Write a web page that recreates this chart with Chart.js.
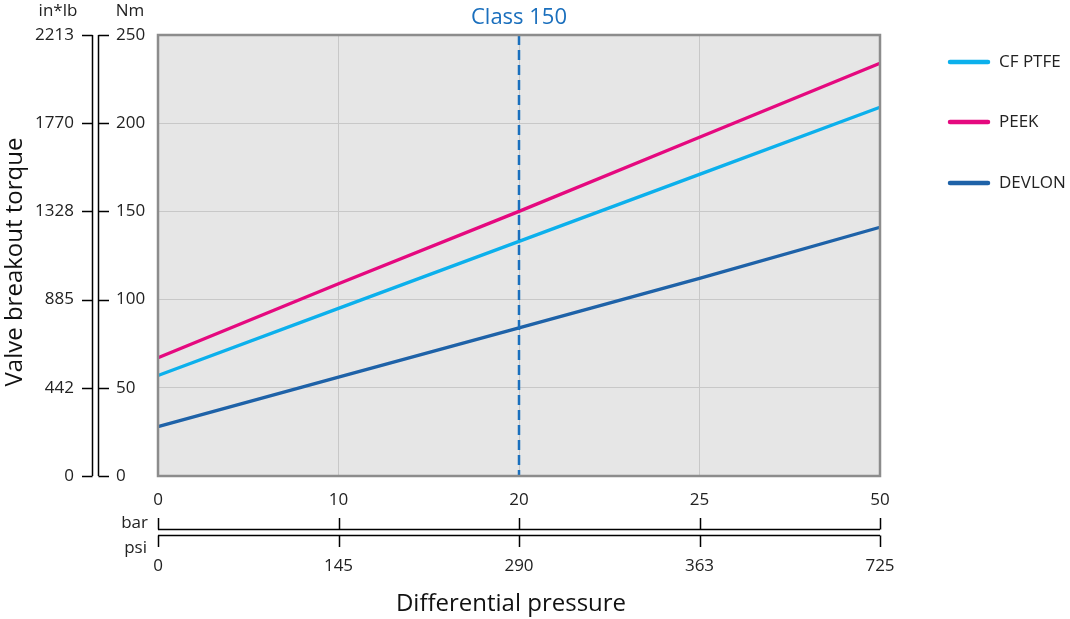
<!DOCTYPE html>
<html>
<head>
<meta charset="utf-8">
<script src="https://cdn.jsdelivr.net/npm/chart.js@4/dist/chart.umd.min.js"></script>
<style>
    body { margin: 0; background: #fff; }
    #wrap { width: 1070px; height: 619px; position: relative; }
</style>
</head>
<body>
<div id="wrap"><canvas id="myChart"></canvas></div>
<script>
// du lieu
const barLabels = ['0', '10', '20', '25', '50']
const psiLabels = ['0', '145', '290', '363', '725']
const nmTicks = [0, 50, 100, 150, 200, 250]
const inlbTicks = ['0', '442', '885', '1328', '1770', '2213']

const cfPtfe = [57, 95, 133, 171, 209]
const peek = [67, 109, 150, 192, 234]
const devlon = [28, 56, 84, 112, 141]

const classIndex = 2
const FONT = "'Open Sans', sans-serif"

// ve nen xam, duong class 150, khung, cac truc phu
const decoPlugin = {
    id: 'deco',
    beforeDraw: (chart) => {
        const { ctx, chartArea: a } = chart
        ctx.save()
        ctx.fillStyle = '#e6e6e6'
        ctx.fillRect(a.left, a.top, a.right - a.left, a.bottom - a.top)
        ctx.restore()
    },
    afterDatasetsDraw: (chart) => {
        const { ctx, chartArea: a, scales } = chart
        const x = scales.x.getPixelForValue(classIndex)
        ctx.save()
        ctx.strokeStyle = '#1a6fbd'
        ctx.lineWidth = 2.5
        ctx.setLineDash([10, 5])
        ctx.beginPath()
        ctx.moveTo(x, a.top)
        ctx.lineTo(x, a.bottom)
        ctx.stroke()
        ctx.restore()
    },
    afterDraw: (chart) => {
        const { ctx, chartArea: a, scales } = chart
        const x = scales.x
        const y = scales.y
        ctx.save()

        // khung
        ctx.strokeStyle = '#8c8c8c'
        ctx.lineWidth = 2.5
        ctx.strokeRect(a.left, a.top, a.right - a.left, a.bottom - a.top)

        // Class 150
        ctx.fillStyle = '#1a6fbd'
        ctx.font = `22px ${FONT}`
        ctx.textAlign = 'center'
        ctx.textBaseline = 'middle'
        ctx.fillText('Class 150', x.getPixelForValue(classIndex), 18)

        // truc y: in*lb va Nm
        ctx.strokeStyle = '#000'
        ctx.lineWidth = 1.5
        ctx.fillStyle = '#222'
        ctx.font = `17px ${FONT}`
        const yTop = y.getPixelForValue(250)
        const yBot = y.getPixelForValue(0)
        ctx.beginPath()
        ctx.moveTo(92.5, yTop); ctx.lineTo(92.5, yBot)
        ctx.moveTo(98.5, yTop); ctx.lineTo(98.5, yBot)
        nmTicks.forEach((v, i) => {
            const py = Math.round(y.getPixelForValue(v)) + 0.5
            ctx.moveTo(82, py); ctx.lineTo(92.5, py)
            ctx.moveTo(98.5, py); ctx.lineTo(109, py)
        })
        ctx.stroke()
        nmTicks.forEach((v, i) => {
            const py = y.getPixelForValue(v)
            ctx.textAlign = 'right'
            ctx.fillText(inlbTicks[i], 74, py)
            ctx.textAlign = 'left'
            ctx.fillText(String(v), 116, py)
        })
        ctx.textAlign = 'center'
        ctx.fillText('in*lb', 58, 11)
        ctx.fillText('Nm', 130, 11)

        // truc x: bar va psi
        const xL = x.getPixelForValue(0)
        const xR = x.getPixelForValue(barLabels.length - 1)
        ctx.beginPath()
        ctx.moveTo(xL, 529.5); ctx.lineTo(xR, 529.5)
        ctx.moveTo(xL, 535.5); ctx.lineTo(xR, 535.5)
        barLabels.forEach((l, i) => {
            const px = Math.round(x.getPixelForValue(i)) + 0.5
            ctx.moveTo(px, 518); ctx.lineTo(px, 529.5)
            ctx.moveTo(px, 535.5); ctx.lineTo(px, 547)
        })
        ctx.stroke()
        barLabels.forEach((l, i) => {
            const px = x.getPixelForValue(i)
            ctx.fillText(l, px, 500)
            ctx.fillText(psiLabels[i], px, 566)
        })
        ctx.textAlign = 'right'
        ctx.fillText('bar', 148, 523)
        ctx.fillText('psi', 147, 548)

        // tieu de truc
        ctx.font = `24px ${FONT}`
        ctx.fillStyle = '#111'
        ctx.textAlign = 'center'
        ctx.fillText('Differential pressure', 511, 604)
        ctx.save()
        ctx.translate(15, 262)
        ctx.rotate(-Math.PI / 2)
        ctx.fillText('Valve breakout torque', 0, 0)
        ctx.restore()

        // chu thich
        const legY = [62, 122, 183]
        ctx.font = `17px ${FONT}`
        ctx.textAlign = 'left'
        ctx.lineCap = 'round'
        chart.data.datasets.forEach((ds, i) => {
            ctx.strokeStyle = ds.borderColor
            ctx.lineWidth = 4.5
            ctx.beginPath()
            ctx.moveTo(950, legY[i]); ctx.lineTo(988, legY[i])
            ctx.stroke()
            ctx.fillStyle = '#222'
            ctx.fillText(ds.label, 999, legY[i])
        })
        ctx.restore()
    }
}

const showChart = () => {
    const ctx = document.getElementById('myChart').getContext('2d')
    const myChart = new Chart(ctx, {
        type: 'line',
        data: {
            labels: barLabels,
            datasets: [
                { label: 'CF PTFE', data: cfPtfe, borderColor: '#0cb0ec' },
                { label: 'PEEK', data: peek, borderColor: '#e5097f' },
                { label: 'DEVLON', data: devlon, borderColor: '#1e62a8' },
            ]
        },
        options: {
            responsive: true,
            maintainAspectRatio: false,
            animation: false,
            layout: { padding: { left: 158, right: 190, top: 35, bottom: 143 } },
            elements: {
                line: { borderWidth: 3.3, tension: 0 },
                point: { radius: 0 }
            },
            plugins: {
                legend: { display: false },
                tooltip: { enabled: false }
            },
            scales: {
                x: {
                    type: 'category',
                    offset: false,
                    grid: { color: '#c8c8c8', drawTicks: false, offset: false },
                    border: { display: false },
                    ticks: { display: false },
                    afterFit: (s) => { s.height = 0 }
                },
                y: {
                    min: 0,
                    max: 250,
                    grid: { color: '#c8c8c8', drawTicks: false },
                    border: { display: false },
                    ticks: { display: false, stepSize: 50 },
                    afterFit: (s) => { s.width = 0 }
                }
            }
        },
        plugins: [decoPlugin]
    })
}

window.onload = function () {
    showChart()
}
</script>
</body>
</html>
